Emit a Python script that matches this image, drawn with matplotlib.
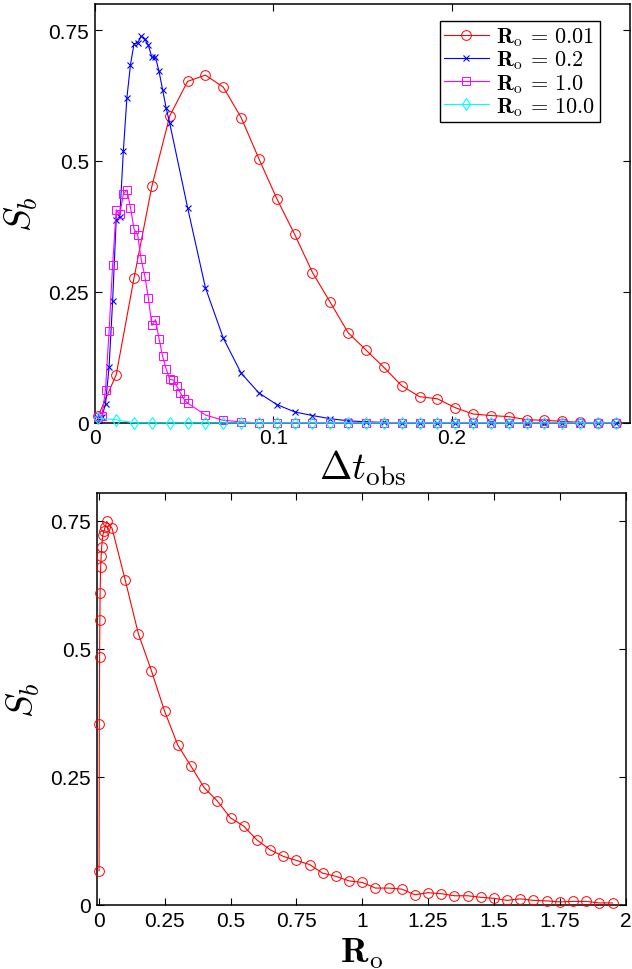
import matplotlib
matplotlib.use("Agg")
import matplotlib.pyplot as plt

plt.rcParams["font.family"] = ["Liberation Sans", "DejaVu Sans"]
plt.rcParams["mathtext.fontset"] = "cm"

# --- top panel data: S_b vs Delta t_obs for several R_o ---
dt_coarse = [0.002, 0.012, 0.022, 0.032, 0.042, 0.052, 0.062, 0.072, 0.082, 0.092,
             0.102, 0.112, 0.122, 0.132, 0.142, 0.152, 0.162, 0.172, 0.182, 0.192,
             0.202, 0.212, 0.222, 0.232, 0.242, 0.252, 0.262, 0.272, 0.282, 0.292]
sb_r001 = [0.014, 0.092, 0.277, 0.452, 0.586, 0.652, 0.664, 0.641, 0.583, 0.504,
           0.428, 0.360, 0.287, 0.230, 0.172, 0.139, 0.106, 0.071, 0.050, 0.046,
           0.029, 0.017, 0.014, 0.012, 0.006, 0.005, 0.003, 0.001, 0.0, 0.0]
sb_r10 = [0.009, 0.006, 0.0, 0.0, 0.0, 0.0, 0.0, 0.0, 0.0, 0.0,
          0.0, 0.0, 0.0, 0.0, 0.0, 0.0, 0.0, 0.0, 0.0, 0.0,
          0.0, 0.0, 0.0, 0.0, 0.0, 0.0, 0.0, 0.0, 0.0, 0.0]

dt_r02 = [0.002, 0.004, 0.006, 0.008, 0.010, 0.012, 0.014, 0.016, 0.018, 0.020,
          0.022, 0.024, 0.026, 0.028, 0.030, 0.032, 0.034, 0.036, 0.038, 0.040,
          0.042, 0.052, 0.062, 0.072, 0.082, 0.092, 0.102, 0.112, 0.122, 0.132,
          0.142, 0.152, 0.162, 0.172, 0.182, 0.192, 0.202, 0.212, 0.222, 0.232,
          0.242, 0.252, 0.262, 0.272, 0.282, 0.292]
sb_r02 = [0.010, 0.012, 0.036, 0.107, 0.233, 0.388, 0.393, 0.519, 0.621, 0.684,
          0.724, 0.725, 0.738, 0.733, 0.721, 0.698, 0.698, 0.671, 0.636, 0.601,
          0.572, 0.411, 0.258, 0.162, 0.095, 0.057, 0.035, 0.021, 0.014, 0.008,
          0.004, 0.002, 0.001, 0.0, 0.0, 0.0, 0.0, 0.0, 0.0, 0.0,
          0.0, 0.0, 0.0, 0.0, 0.0, 0.0]

dt_r1 = [0.002, 0.004, 0.006, 0.008, 0.010, 0.012, 0.014, 0.016, 0.018, 0.020,
         0.022, 0.024, 0.026, 0.028, 0.030, 0.032, 0.034, 0.036, 0.038, 0.040,
         0.042, 0.044, 0.046, 0.048, 0.050, 0.052, 0.062, 0.072, 0.082, 0.092,
         0.102, 0.112, 0.122, 0.132, 0.142, 0.152, 0.162, 0.172, 0.182, 0.192,
         0.202, 0.212, 0.222, 0.232, 0.242, 0.252, 0.262, 0.272, 0.282, 0.292]
sb_r1 = [0.012, 0.014, 0.063, 0.175, 0.302, 0.407, 0.398, 0.437, 0.445, 0.411,
         0.370, 0.359, 0.312, 0.281, 0.239, 0.186, 0.197, 0.161, 0.127, 0.103,
         0.083, 0.082, 0.070, 0.057, 0.045, 0.038, 0.015, 0.005, 0.002, 0.0,
         0.0, 0.0, 0.0, 0.0, 0.0, 0.0, 0.0, 0.0, 0.0, 0.0,
         0.0, 0.0, 0.0, 0.0, 0.0, 0.0, 0.0, 0.0, 0.0, 0.0]

# --- bottom panel data: S_b vs R_o ---
ro = [0.001, 0.002, 0.003, 0.004, 0.005, 0.007, 0.009, 0.011, 0.015, 0.02,
      0.025, 0.03, 0.05, 0.1, 0.15, 0.2, 0.25, 0.3, 0.35, 0.4,
      0.45, 0.5, 0.55, 0.6, 0.65, 0.7, 0.75, 0.8, 0.85, 0.9,
      0.95, 1.0, 1.05, 1.1, 1.15, 1.2, 1.25, 1.3, 1.35, 1.4,
      1.45, 1.5, 1.55, 1.6, 1.65, 1.7, 1.75, 1.8, 1.85, 1.9, 1.95]
sb_ro = [0.067, 0.353, 0.484, 0.557, 0.610, 0.660, 0.682, 0.700, 0.722, 0.731,
         0.739, 0.749, 0.736, 0.635, 0.530, 0.457, 0.378, 0.312, 0.271, 0.229,
         0.203, 0.170, 0.154, 0.127, 0.108, 0.095, 0.087, 0.079, 0.062, 0.056,
         0.047, 0.044, 0.033, 0.033, 0.031, 0.020, 0.024, 0.022, 0.018, 0.018,
         0.015, 0.013, 0.009, 0.012, 0.009, 0.008, 0.006, 0.007, 0.007, 0.004, 0.004]

fig = plt.figure(figsize=(6.32, 9.70), dpi=100)
ax1 = fig.add_axes([0.150, 0.563, 0.847, 0.432])
ax2 = fig.add_axes([0.153, 0.066, 0.837, 0.425])

lw = 0.8
common = dict(lw=lw, zorder=3, clip_on=False)
ax1.plot(dt_coarse, sb_r001, color="red", marker="o", mfc="none", ms=7, mew=0.7,
         label=r"$\mathbf{R}_{\rm o}\,=\,0.01$", **common)
ax1.plot(dt_r02, sb_r02, color="blue", marker="x", ms=4, mew=0.8,
         label=r"$\mathbf{R}_{\rm o}\,=\,0.2$", **common)
ax1.plot(dt_r1, sb_r1, color="magenta", marker="s", mfc="none", ms=5.5, mew=0.7,
         label=r"$\mathbf{R}_{\rm o}\,=\,1.0$", **common)
ax1.plot(dt_coarse, sb_r10, color="cyan", marker="d", mfc="none", ms=6.5, mew=0.8,
         label=r"$\mathbf{R}_{\rm o}\,=\,10.0$", **common)

ax1.set_xlim(0, 0.3)
ax1.set_ylim(0, 0.8)
ax1.set_xticks([0, 0.1, 0.2])
ax1.set_xticklabels(["0", "0.1", "0.2"])
ax1.set_yticks([0, 0.25, 0.5, 0.75])
ax1.set_yticklabels(["0", "0.25", "0.5", "0.75"])
ax1.set_xlabel(r"$\Delta t_{\rm obs}$", fontsize=28, labelpad=0)
ax1.set_ylabel(r"$S_b$", fontsize=27, labelpad=6)
leg = ax1.legend(loc="upper right", bbox_to_anchor=(0.944, 0.959), fontsize=16,
                 frameon=True, fancybox=False, handlelength=2.0,
                 borderpad=0.2, labelspacing=0.02, handletextpad=0.35,
                 borderaxespad=0)
leg.get_frame().set_edgecolor("black")
leg.get_frame().set_linewidth(1.0)
leg.get_frame().set_alpha(1)

ax2.plot(ro, sb_ro, color="red", marker="o", mfc="none", ms=7, mew=0.7, **common)
ax2.set_xlim(-0.008, 2)
ax2.set_ylim(0, 0.805)
ax2.set_xticks([0, 0.25, 0.5, 0.75, 1, 1.25, 1.5, 1.75, 2])
ax2.set_xticklabels(["0", "0.25", "0.5", "0.75", "1", "1.25", "1.5", "1.75", "2"])
ax2.set_yticks([0, 0.25, 0.5, 0.75])
ax2.set_yticklabels(["0", "0.25", "0.5", "0.75"])
ax2.set_xlabel(r"$\mathbf{R}_{\rm o}$", fontsize=26, labelpad=4)
ax2.set_ylabel(r"$S_b$", fontsize=27, labelpad=6)

for ax in (ax1, ax2):
    ax.tick_params(direction="in", top=True, right=True, length=5, width=0.8,
                   labelsize=15, pad=4)
    for sp in ax.spines.values():
        sp.set_linewidth(1.1)

fig.savefig("out.png", dpi=100)
